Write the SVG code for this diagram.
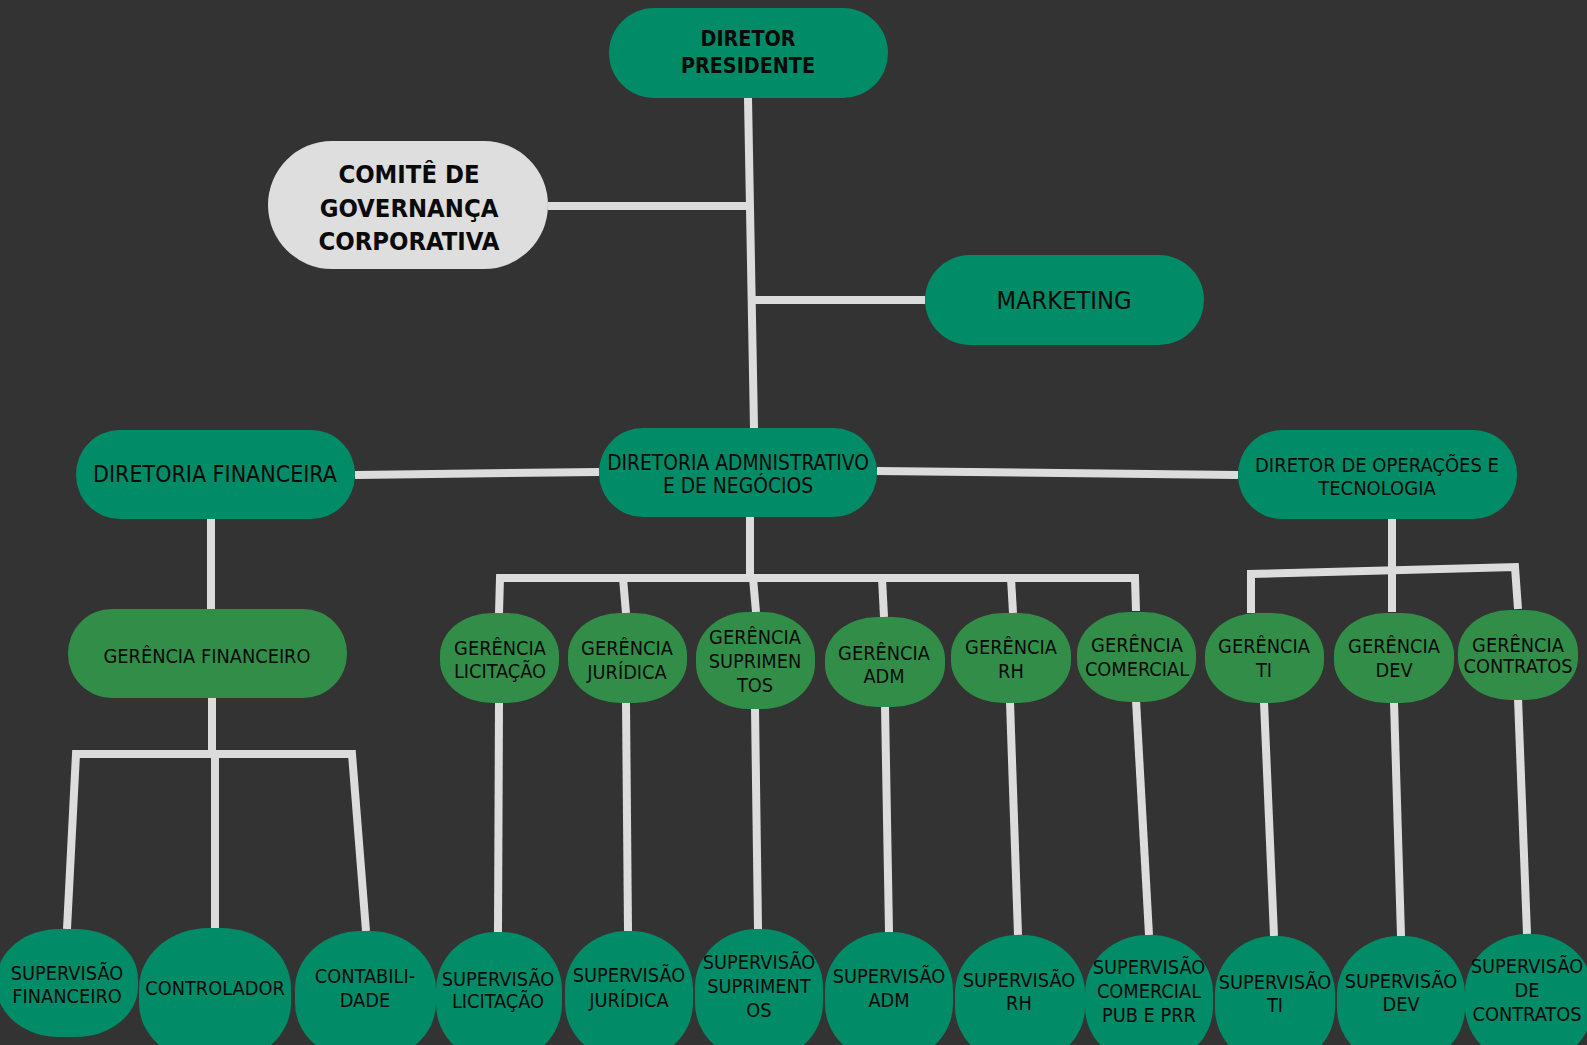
<svg xmlns="http://www.w3.org/2000/svg" width="1587" height="1045" viewBox="0 0 1587 1045">
<style>
.bg{fill:#333333}
.d{fill:#028b67}
.g{fill:#328d49}
.c{fill:#dedede}
.ln{stroke:#dcdcdc;stroke-width:8;fill:none;stroke-linecap:butt;stroke-linejoin:miter}
text{font-family:"DejaVu Sans Condensed","DejaVu Sans",sans-serif;fill:#0a0a0a;text-anchor:middle}
.t20{font-size:20px}
.t21{font-size:20.8px}
.t23{font-size:23px}
.t24{font-size:25.2px}
.t18{font-size:19.8px}
.b20{font-size:21.3px;font-weight:bold}
.b26{font-size:25.4px;font-weight:bold}
</style>
<rect class="bg" x="0" y="0" width="1587" height="1045"/>
<g id="connectors">
<path class="ln" d="M748,98 L754,428"/>
<path class="ln" d="M548,206 L749,206"/>
<path class="ln" d="M751,300 L925,300"/>
<path class="ln" d="M355,475 L599,472"/>
<path class="ln" d="M877,471 L1238,475"/>
<path class="ln" d="M211,519 L211,609"/>
<path class="ln" d="M212,698 L212,754"/>
<path class="ln" d="M67,929 L76,754 L352,754 L366,931"/>
<path class="ln" d="M215,754 L215,929"/>
<path class="ln" d="M750,517 L750,578"/>
<path class="ln" d="M499,613 L500,578 L1135,578 L1136,611"/>
<path class="ln" d="M623,578 L626,613"/>
<path class="ln" d="M753,578 L756,612"/>
<path class="ln" d="M882,578 L884,617"/>
<path class="ln" d="M1011,578 L1013,613"/>
<path class="ln" d="M1392,518 L1392,612"/>
<path class="ln" d="M1251,613 L1251,574 L1515,567 L1518,609"/>
<path class="ln" d="M499,702 L498,932"/>
<path class="ln" d="M626,702 L628,931"/>
<path class="ln" d="M755,708 L758,929"/>
<path class="ln" d="M885,706 L889,932"/>
<path class="ln" d="M1010,702 L1018,935"/>
<path class="ln" d="M1136,700 L1149,935"/>
<path class="ln" d="M1264,702 L1274,936"/>
<path class="ln" d="M1394,702 L1401,936"/>
<path class="ln" d="M1518,698 L1527,934"/>
</g>
<g id="diretor-presidente"><rect class="d" x="609" y="8" width="279" height="90" rx="45"/><text class="b20" x="748" y="46">DIRETOR</text><text class="b20" x="748" y="73">PRESIDENTE</text></g>
<g id="comite"><rect class="c" x="268" y="141" width="280" height="128" rx="64"/><text class="b26" x="409" y="183">COMITÊ DE</text><text class="b26" x="409" y="217">GOVERNANÇA</text><text class="b26" x="409" y="250">CORPORATIVA</text></g>
<g id="marketing"><rect class="d" x="925" y="255" width="279" height="90" rx="45"/><text class="t24" x="1064" y="309">MARKETING</text></g>
<g id="diretoria-financeira"><rect class="d" x="76" y="430" width="279" height="89" rx="44"/><text class="t23" x="215" y="482">DIRETORIA FINANCEIRA</text></g>
<g id="diretoria-adm"><rect class="d" x="599" y="428" width="278" height="89" rx="44"/><text class="t21" x="738" y="470">DIRETORIA ADMNISTRATIVO</text><text class="t21" x="738" y="493">E DE NEGÓCIOS</text></g>
<g id="diretor-operacoes"><rect class="d" x="1238" y="430" width="279" height="89" rx="44"/><text class="t20" x="1377" y="472">DIRETOR DE OPERAÇÕES E</text><text class="t20" x="1377" y="495">TECNOLOGIA</text></g>
<g id="gerencia-financeiro"><rect class="g" x="68" y="609" width="279" height="89" rx="44"/><text class="t18" x="207" y="663">GERÊNCIA FINANCEIRO</text></g>
<g id="gerencia-licitacao"><rect class="g" x="440" y="613" width="119" height="90" rx="52" ry="42"/><text class="t18" x="500" y="655">GERÊNCIA</text><text class="t18" x="500" y="678">LICITAÇÃO</text></g>
<g id="gerencia-juridica"><rect class="g" x="568" y="613" width="119" height="90" rx="52" ry="42"/><text class="t18" x="627" y="655">GERÊNCIA</text><text class="t18" x="627" y="679">JURÍDICA</text></g>
<g id="gerencia-suprimentos"><rect class="g" x="696" y="612" width="119" height="97" rx="52" ry="45"/><text class="t18" x="755" y="644">GERÊNCIA</text><text class="t18" x="755" y="668">SUPRIMEN</text><text class="t18" x="755" y="692">TOS</text></g>
<g id="gerencia-adm"><rect class="g" x="825" y="617" width="120" height="90" rx="52" ry="42"/><text class="t18" x="884" y="660">GERÊNCIA</text><text class="t18" x="884" y="683">ADM</text></g>
<g id="gerencia-rh"><rect class="g" x="951" y="613" width="120" height="90" rx="52" ry="42"/><text class="t18" x="1011" y="654">GERÊNCIA</text><text class="t18" x="1011" y="678">RH</text></g>
<g id="gerencia-comercial"><rect class="g" x="1077" y="612" width="119" height="90" rx="52" ry="42"/><text class="t18" x="1137" y="652">GERÊNCIA</text><text class="t18" x="1137" y="676">COMERCIAL</text></g>
<g id="gerencia-ti"><rect class="g" x="1205" y="613" width="119" height="90" rx="52" ry="42"/><text class="t18" x="1264" y="653">GERÊNCIA</text><text class="t18" x="1264" y="677">TI</text></g>
<g id="gerencia-dev"><rect class="g" x="1334" y="613" width="120" height="90" rx="52" ry="42"/><text class="t18" x="1394" y="653">GERÊNCIA</text><text class="t18" x="1394" y="677">DEV</text></g>
<g id="gerencia-contratos"><rect class="g" x="1458" y="610" width="120" height="90" rx="52" ry="42"/><text class="t18" x="1518" y="652">GERÊNCIA</text><text class="t18" x="1518" y="673">CONTRATOS</text></g>
<g id="sup-financeiro"><rect class="d" x="-3" y="929" width="141" height="108" rx="62" ry="50"/><text class="t18" x="67" y="980">SUPERVISÃO</text><text class="t18" x="67" y="1003">FINANCEIRO</text></g>
<g id="controlador"><rect class="d" x="139" y="928" width="152" height="135" rx="70" ry="60"/><text class="t18" x="215" y="995">CONTROLADOR</text></g>
<g id="contabilidade"><rect class="d" x="295" y="931" width="141" height="130" rx="66" ry="58"/><text class="t18" x="365" y="983">CONTABILI-</text><text class="t18" x="365" y="1007">DADE</text></g>
<g id="sup-licitacao"><rect class="d" x="436" y="932" width="126" height="130" rx="60" ry="58"/><text class="t18" x="498" y="986">SUPERVISÃO</text><text class="t18" x="498" y="1008">LICITAÇÃO</text></g>
<g id="sup-juridica"><rect class="d" x="565" y="931" width="128" height="130" rx="62" ry="58"/><text class="t18" x="629" y="982">SUPERVISÃO</text><text class="t18" x="629" y="1007">JURÍDICA</text></g>
<g id="sup-suprimentos"><rect class="d" x="695" y="929" width="128" height="132" rx="62" ry="58"/><text class="t18" x="759" y="969">SUPERVISÃO</text><text class="t18" x="759" y="993">SUPRIMENT</text><text class="t18" x="759" y="1017">OS</text></g>
<g id="sup-adm"><rect class="d" x="825" y="932" width="128" height="130" rx="62" ry="58"/><text class="t18" x="889" y="983">SUPERVISÃO</text><text class="t18" x="889" y="1007">ADM</text></g>
<g id="sup-rh"><rect class="d" x="955" y="935" width="130" height="130" rx="63" ry="58"/><text class="t18" x="1019" y="987">SUPERVISÃO</text><text class="t18" x="1019" y="1010">RH</text></g>
<g id="sup-comercial"><rect class="d" x="1085" y="935" width="128" height="130" rx="62" ry="58"/><text class="t18" x="1149" y="974">SUPERVISÃO</text><text class="t18" x="1149" y="998">COMERCIAL</text><text class="t18" x="1149" y="1022">PUB E PRR</text></g>
<g id="sup-ti"><rect class="d" x="1215" y="936" width="120" height="130" rx="58" ry="58"/><text class="t18" x="1275" y="989">SUPERVISÃO</text><text class="t18" x="1275" y="1012">TI</text></g>
<g id="sup-dev"><rect class="d" x="1337" y="936" width="128" height="130" rx="62" ry="58"/><text class="t18" x="1401" y="988">SUPERVISÃO</text><text class="t18" x="1401" y="1011">DEV</text></g>
<g id="sup-contratos"><rect class="d" x="1465" y="934" width="128" height="130" rx="62" ry="58"/><text class="t18" x="1527" y="973">SUPERVISÃO</text><text class="t18" x="1527" y="997">DE</text><text class="t18" x="1527" y="1021">CONTRATOS</text></g>
</svg>
